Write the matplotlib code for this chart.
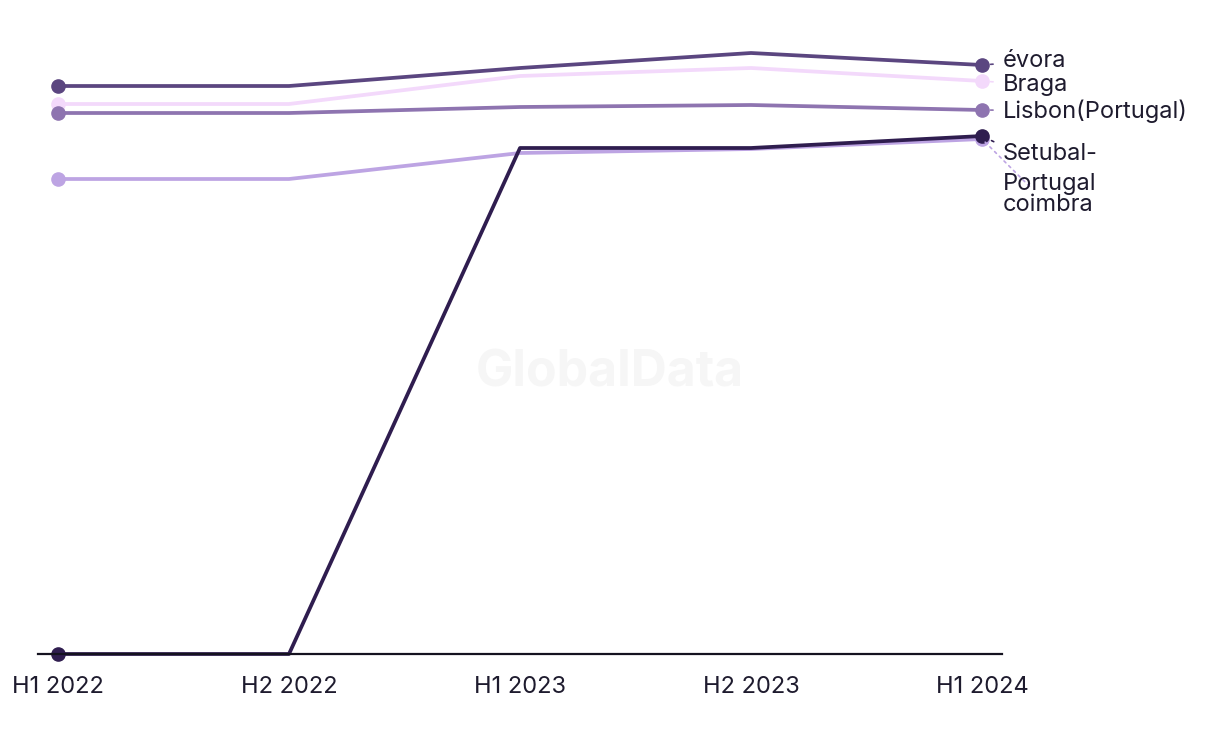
import matplotlib.pyplot as plt

plt.rcParams['font.family'] = ['Inter', 'DejaVu Sans']

periods = ["H1 2022", "H2 2022", "H1 2023", "H2 2023", "H1 2024"]

evora = [568, 568, 586, 601, 589]
braga = [550, 550, 578, 586, 573]
lisbon = [541, 541, 547, 549, 544]
coimbra = [475, 475, 501, 505, 515]
setubal = [0, 0, 506, 506, 518]

names = ["évora", "Braga", "Lisbon(Portugal)", "coimbra", "Setubal-\nPortugal"]
series = [evora, braga, lisbon, coimbra, setubal]
colors = ["#5b4680", "#f3d9fb", "#8e74b0", "#bda4e3", "#2f1d4f"]
# label y positions (same units as data) so the names don't overlap
label_y = [593, 569, 543, 449, 485]

fig = plt.figure(figsize=(12.2, 7.44), dpi=100)
ax = fig.add_axes([38 / 1220, 90 / 744, 964 / 1220, 634 / 744])

x = list(range(len(periods)))
for s, c in zip(series, colors):
    ax.plot(x, s, color=c, lw=2.7, solid_capstyle='round', clip_on=False)
    ax.plot([x[0], x[-1]], [s[0], s[-1]], 'o', color=c, ms=9.5, lw=0,
            clip_on=False)

for name, s, c, ly in zip(names, series, colors, label_y):
    ax.annotate(name, xy=(x[-1], s[-1]), xytext=(x[-1] + 0.09, ly),
                fontsize=17, color="#1e1b2e", va='center', ha='left',
                linespacing=1.45,
                arrowprops=dict(arrowstyle='-', linestyle=(0, (1.5, 2.5)),
                                color=c, lw=1.2, shrinkA=5, shrinkB=2))

ax.text(0.5, 0.499, "GlobalData", transform=fig.transFigure, ha='center',
        va='center', fontsize=36, fontweight='bold', color="#f6f6f6", zorder=0)

ax.set_xlim(-20 / 231, 4 + 20 / 231)
ax.set_ylim(0, 634)
ax.set_xticks(x)
ax.set_xticklabels(periods, fontsize=17, color="#1e1b2e")
ax.tick_params(axis='x', length=0, pad=16)
ax.set_yticks([])
for side in ['top', 'right', 'left']:
    ax.spines[side].set_visible(False)
ax.spines['bottom'].set_color("#14121f")
ax.spines['bottom'].set_linewidth(1.6)

fig.savefig("out.png", dpi=100)
